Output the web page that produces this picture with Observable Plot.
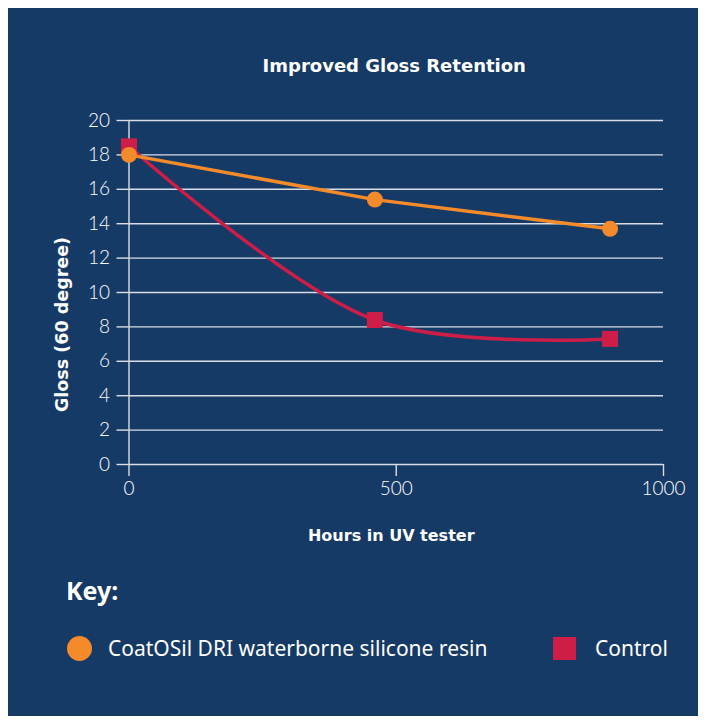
<!DOCTYPE html>
<html>
<head>
<meta charset="utf-8">
<script src="https://cdn.jsdelivr.net/npm/d3@7"></script>
<script src="https://cdn.jsdelivr.net/npm/@observablehq/plot@0.6"></script>
<style>
  html, body { margin: 0; padding: 0; background: #ffffff; }
  #panel { position: absolute; left: 8px; top: 8px; width: 690px; height: 708px; background: #163A66; overflow: hidden; }
  #chart { position: absolute; left: 0; top: 0; }
  #key { position: absolute; left: 58px; top: 565px; color: #fff; font-family: "Noto Sans", sans-serif; font-weight: 700; font-size: 25px; }
  .item { position: absolute; top: 626px; height: 28px; display: flex; align-items: center; color: #fff; font-family: "Noto Sans", sans-serif; font-size: 21px; }
  .sw { display: inline-block; }
</style>
</head>
<body>
<div id="panel">
  <div id="chart"></div>
  <div id="key">Key:</div>
  <div id="legend"></div>
</div>
<script>
const hours = [0, 460, 900];
const coatosil = [18.0, 15.4, 13.7];
const control = [18.5, 8.4, 7.3];
const seriesNames = ["CoatOSil DRI waterborne silicone resin", "Control"];
const seriesColors = ["#F58A2B", "#CE1E47"];
const yTicks = [0, 2, 4, 6, 8, 10, 12, 14, 16, 18, 20];
const xTicks = [0, 500, 1000];
const title = "Improved Gloss Retention";
const xLabel = "Hours in UV tester";
const yLabel = "Gloss (60 degree)";

const rows = hours.map((h, i) => ({h, coat: coatosil[i], ctrl: control[i]}));
const gridColor = "#d9dee6";
const boldFont = "DejaVu Sans, sans-serif";

const chart = Plot.plot({
  width: 690,
  height: 540,
  marginLeft: 120.5,
  marginRight: 35,
  marginTop: 112,
  marginBottom: 84,
  style: {background: "transparent", color: "#ffffff", fontFamily: "Lato, sans-serif", fontSize: "19px", fontWeight: 300},
  x: {domain: [0, 1000], ticks: xTicks, tickFormat: d => String(d)},
  y: {domain: [0, 20], ticks: yTicks},
  marks: [
    Plot.gridY(yTicks, {stroke: gridColor, strokeOpacity: 1, strokeWidth: 1.4}),
    Plot.ruleX([0], {stroke: gridColor, strokeWidth: 1.4}),
    Plot.axisY(yTicks, {tickSize: 12, tickPadding: 7, stroke: gridColor, strokeWidth: 1.4, label: null, fill: "#ffffff"}),
    Plot.axisX(xTicks, {tickSize: 12, tickPadding: 5, stroke: gridColor, strokeWidth: 1.4, label: null, fill: "#ffffff", tickFormat: d => String(d)}),
    Plot.line(rows, {x: "h", y: "ctrl", curve: "catmull-rom", stroke: seriesColors[1], strokeWidth: 3.5}),
    Plot.line(rows, {x: "h", y: "coat", stroke: seriesColors[0], strokeWidth: 3.5}),
    Plot.dot(rows, {x: "h", y: "ctrl", symbol: "square", r: 9, fill: seriesColors[1], stroke: null}),
    Plot.dot(rows, {x: "h", y: "coat", r: 8, fill: seriesColors[0], stroke: null}),
    Plot.text([title], {frameAnchor: "top", textAnchor: "middle", lineAnchor: "middle", dy: -54, dx: -2, fontWeight: 700, fontSize: 18, fontFamily: boldFont, fill: "#ffffff"}),
    Plot.text([xLabel], {frameAnchor: "bottom", textAnchor: "middle", lineAnchor: "middle", dy: 71, dx: -5, fontWeight: 700, fontSize: 16, fontFamily: boldFont, fill: "#ffffff"}),
    Plot.text([yLabel], {frameAnchor: "left", textAnchor: "middle", lineAnchor: "middle", rotate: -90, dx: -67, dy: 32, fontWeight: 700, fontSize: 17.5, fontFamily: boldFont, fill: "#ffffff"})
  ]
});
document.getElementById("chart").appendChild(chart);

// legend
const legend = document.getElementById("legend");
const items = [
  {name: seriesNames[0], color: seriesColors[0], shape: "circle", swLeft: 59, textLeft: 100},
  {name: seriesNames[1], color: seriesColors[1], shape: "square", swLeft: 545, textLeft: 587}
];
items.forEach(it => {
  const sw = document.createElement("div");
  sw.className = "item";
  sw.style.left = it.swLeft + "px";
  const s = document.createElement("span");
  s.className = "sw";
  s.style.width = (it.shape === "circle" ? 25 : 23) + "px";
  s.style.height = (it.shape === "circle" ? 25 : 23) + "px";
  s.style.background = it.color;
  if (it.shape === "circle") s.style.borderRadius = "50%";
  sw.appendChild(s);
  legend.appendChild(sw);
  const t = document.createElement("div");
  t.className = "item";
  t.style.left = it.textLeft + "px";
  t.textContent = it.name;
  legend.appendChild(t);
});
</script>
</body>
</html>
